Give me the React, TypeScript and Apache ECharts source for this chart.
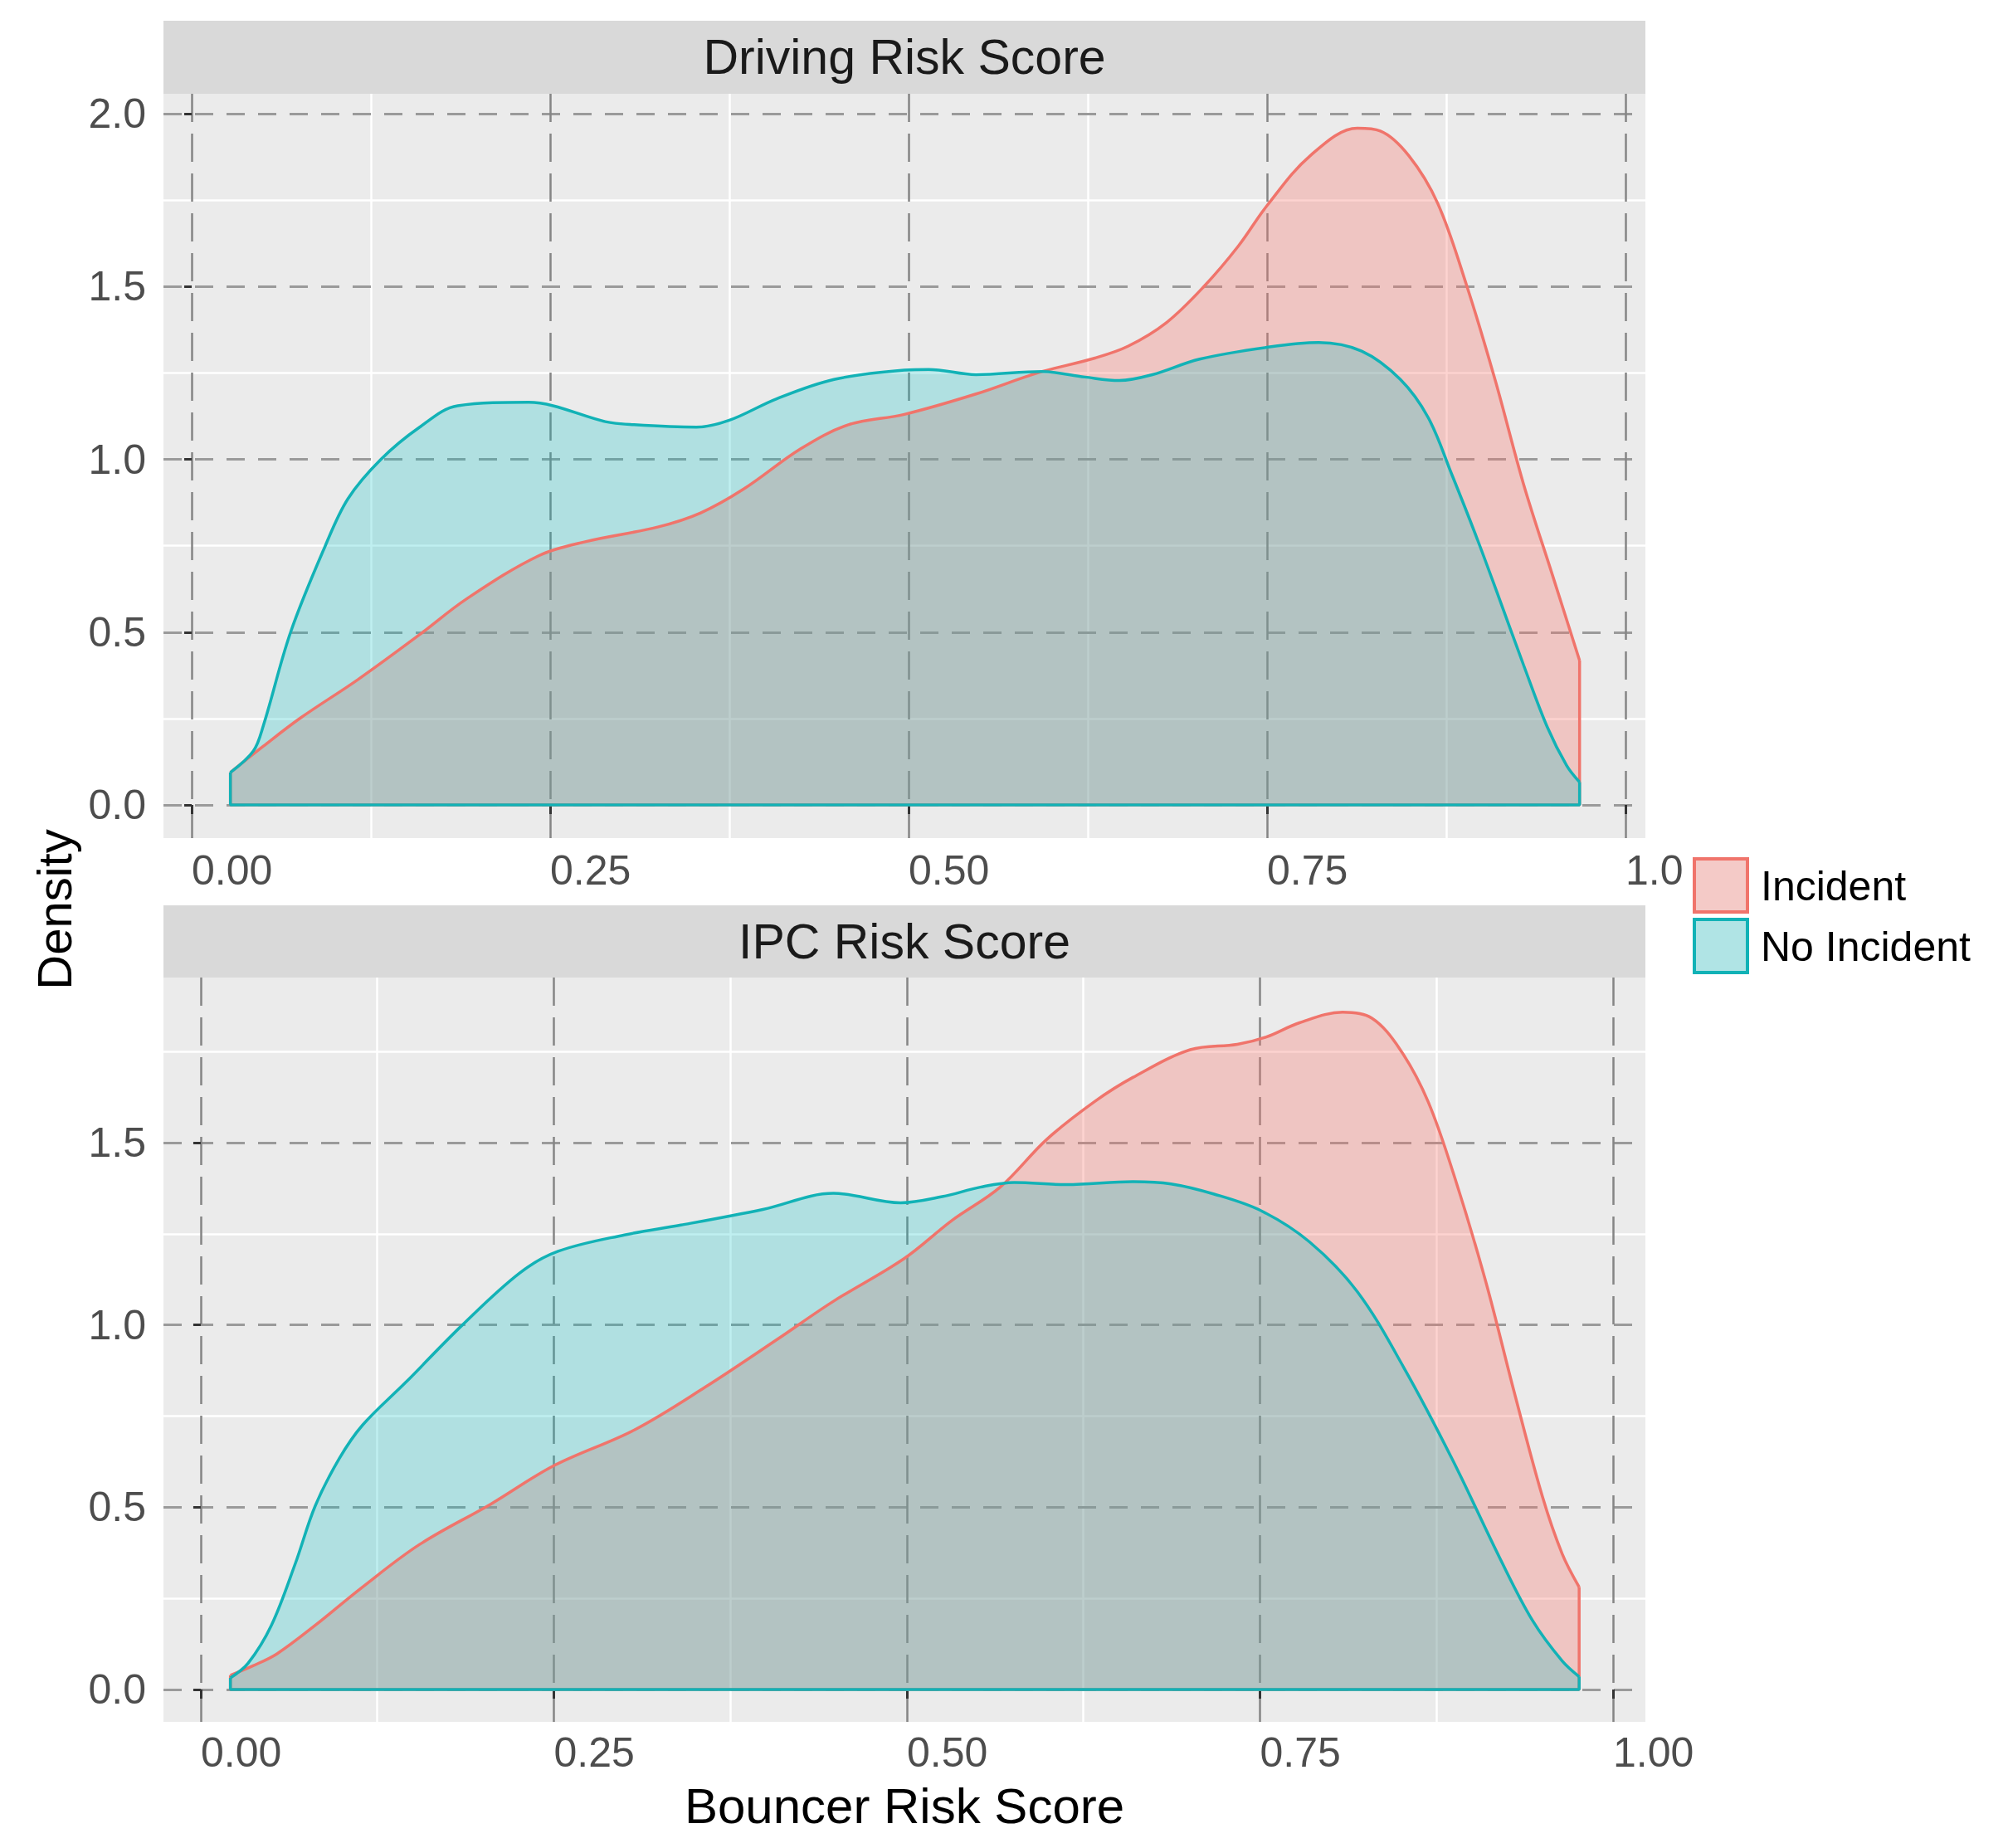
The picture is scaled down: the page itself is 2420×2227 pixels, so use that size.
import React, { useEffect, useRef } from 'react';
import * as echarts from 'echarts';

// ---------- data ----------
const PANEL_TITLES = ['Driving Risk Score', 'IPC Risk Score'];
const GROUPS = ['Incident', 'No Incident'];
const X_TITLE = 'Bouncer Risk Score';
const Y_TITLE = 'Density';

const X_TICKS = [0, 0.25, 0.5, 0.75, 1.0];
const X_MINOR = [0.125, 0.375, 0.625, 0.875];
const Y_TICKS_TOP = [0, 0.5, 1.0, 1.5, 2.0];
const Y_TICKS_BOTTOM = [0, 0.5, 1.0, 1.5];
const Y_MINOR = [0.25, 0.75, 1.25, 1.75];

// Driving Risk Score – Incident
const drivingIncX = [0.027, 0.05, 0.076, 0.116, 0.159, 0.192, 0.242, 0.275, 0.325, 0.355, 0.385, 0.425, 0.458, 0.497, 0.547, 0.59, 0.63, 0.653, 0.68, 0.706, 0.73, 0.75, 0.78, 0.813, 0.829, 0.849, 0.869, 0.889, 0.909, 0.929, 0.949, 0.968];
const drivingIncY = [0.094, 0.17, 0.252, 0.363, 0.493, 0.597, 0.721, 0.762, 0.804, 0.845, 0.914, 1.031, 1.1, 1.13, 1.189, 1.25, 1.293, 1.327, 1.396, 1.5, 1.617, 1.734, 1.878, 1.958, 1.95, 1.878, 1.741, 1.506, 1.231, 0.927, 0.666, 0.418];
// Driving Risk Score – No Incident
const drivingNoX = [0.027, 0.043, 0.05, 0.069, 0.093, 0.109, 0.132, 0.159, 0.1855, 0.235, 0.252, 0.2885, 0.3085, 0.352, 0.375, 0.408, 0.448, 0.497, 0.514, 0.547, 0.593, 0.623, 0.647, 0.67, 0.703, 0.75, 0.786, 0.816, 0.843, 0.8625, 0.879, 0.896, 0.912, 0.929, 0.9455, 0.959, 0.968];
const drivingNoY = [0.094, 0.156, 0.23, 0.5, 0.748, 0.886, 1.0, 1.093, 1.155, 1.165, 1.155, 1.109, 1.1, 1.093, 1.113, 1.175, 1.231, 1.258, 1.26, 1.245, 1.254, 1.238, 1.228, 1.245, 1.29, 1.324, 1.338, 1.313, 1.231, 1.12, 0.955, 0.776, 0.597, 0.404, 0.225, 0.114, 0.066];

// IPC Risk Score – Incident
const ipcIncX = [0.021, 0.037, 0.054, 0.081, 0.1145, 0.155, 0.2055, 0.25, 0.307, 0.357, 0.408, 0.448, 0.498, 0.532, 0.566, 0.599, 0.633, 0.66, 0.7006, 0.734, 0.7545, 0.778, 0.8085, 0.829, 0.849, 0.869, 0.889, 0.91, 0.93, 0.95, 0.964, 0.976];
const ipcIncY = [0.039, 0.065, 0.098, 0.176, 0.281, 0.398, 0.509, 0.614, 0.712, 0.829, 0.96, 1.065, 1.182, 1.287, 1.378, 1.509, 1.613, 1.679, 1.755, 1.77, 1.79, 1.829, 1.858, 1.842, 1.757, 1.613, 1.391, 1.117, 0.816, 0.529, 0.372, 0.281];
// IPC Risk Score – No Incident
const ipcNoX = [0.021, 0.0335, 0.05, 0.067, 0.081, 0.098, 0.1145, 0.145, 0.185, 0.226, 0.253, 0.3, 0.34, 0.398, 0.448, 0.4955, 0.525, 0.552, 0.576, 0.613, 0.66, 0.687, 0.7175, 0.751, 0.785, 0.819, 0.852, 0.886, 0.92, 0.943, 0.964, 0.976];
const ipcNoY = [0.032, 0.072, 0.176, 0.346, 0.503, 0.633, 0.725, 0.842, 0.999, 1.143, 1.202, 1.247, 1.274, 1.317, 1.361, 1.335, 1.352, 1.378, 1.391, 1.385, 1.393, 1.387, 1.359, 1.313, 1.228, 1.091, 0.882, 0.633, 0.359, 0.189, 0.078, 0.035];

// ---------- styling / layout ----------
const FONT = '"Liberation Sans", Arial, Helvetica, sans-serif';
const RED = '#F8766D';
const TEAL = '#00BFC4';
const RED_LINE = '#F0746B';
const TEAL_LINE = '#12B2B6';
const RED_ALPHA = 0.32;
const TEAL_ALPHA = 0.25;
const PANEL_LEFT = 197;
const PANEL_W = 1786;
const PANEL_H = 897;

const PANELS = [
  {
    title: PANEL_TITLES[0],
    inc: [drivingIncX, drivingIncY],
    no: [drivingNoX, drivingNoY],
    xRange: [-0.0197, 1.0139],
    yRange: [-0.096, 2.0576],
    yTicks: Y_TICKS_TOP,
    gridTop: 113,
    stripTop: 25,
    stripH: 88,
    xLabelMargin: 14,
  },
  {
    title: PANEL_TITLES[1],
    inc: [ipcIncX, ipcIncY],
    no: [ipcNoX, ipcNoY],
    xRange: [-0.0264, 1.0229],
    yRange: [-0.0888, 1.9531],
    yTicks: Y_TICKS_BOTTOM,
    gridTop: 1178,
    stripTop: 1091,
    stripH: 87,
    xLabelMargin: 12,
  },
];

function zip(xs: number[], ys: number[]) {
  return xs.map((x, i) => [x, ys[i]]);
}
function edges(xs: number[], ys: number[]) {
  const n = xs.length - 1;
  return [
    [xs[0], ys[0]],
    [xs[0], 0],
    [xs[n], 0],
    [xs[n], ys[n]],
  ];
}

function buildOption() {
  const grid: any[] = [];
  const xAxis: any[] = [];
  const yAxis: any[] = [];
  const series: any[] = [];
  const graphic: any[] = [];

  PANELS.forEach((p, i) => {
    grid.push({
      left: PANEL_LEFT,
      top: p.gridTop,
      width: PANEL_W,
      height: PANEL_H,
      show: true,
      backgroundColor: '#EBEBEB',
      borderWidth: 0,
    });
    // major x axis (dashed grid, ticks, labels)
    xAxis.push({
      type: 'value',
      gridIndex: i,
      min: p.xRange[0],
      max: p.xRange[1],
      z: 1,
      axisLine: { show: false },
      axisTick: {
        show: true,
        customValues: X_TICKS,
        length: 11,
        lineStyle: { color: '#333333', width: 3 },
      },
      axisLabel: {
        show: true,
        customValues: X_TICKS,
        formatter: (v: number) => v.toFixed(2),
        align: 'left',
        fontSize: 50,
        fontFamily: FONT,
        color: '#4D4D4D',
        margin: p.xLabelMargin,
      },
      splitLine: {
        show: true,
        lineStyle: { type: [34, 14], color: '#858585', width: 2.5 },
      },
    });
    // minor x axis (white solid grid)
    xAxis.push({
      type: 'value',
      gridIndex: i,
      min: p.xRange[0],
      max: p.xRange[1],
      z: 0,
      axisLine: { show: false },
      axisTick: { show: false, customValues: X_MINOR },
      axisLabel: { show: false, customValues: X_MINOR },
      splitLine: { show: true, lineStyle: { color: '#FFFFFF', width: 2.5 } },
    });
    yAxis.push({
      type: 'value',
      gridIndex: i,
      min: p.yRange[0],
      max: p.yRange[1],
      z: 1,
      axisLine: { show: false },
      axisTick: {
        show: true,
        customValues: p.yTicks,
        length: 9,
        lineStyle: { color: '#333333', width: 3 },
      },
      axisLabel: {
        show: true,
        customValues: p.yTicks,
        formatter: (v: number) => v.toFixed(1),
        fontSize: 50,
        fontFamily: FONT,
        color: '#4D4D4D',
        margin: 21,
      },
      splitLine: {
        show: true,
        lineStyle: { type: [22, 16], color: '#9A9A9A', width: 3 },
      },
    });
    yAxis.push({
      type: 'value',
      gridIndex: i,
      min: p.yRange[0],
      max: p.yRange[1],
      z: 0,
      axisLine: { show: false },
      axisTick: { show: false, customValues: Y_MINOR },
      axisLabel: { show: false, customValues: Y_MINOR },
      splitLine: { show: true, lineStyle: { color: '#FFFFFF', width: 2.5 } },
    });

    const xi = 2 * i;
    const groups = [
      { name: GROUPS[0], color: RED, line: RED_LINE, alpha: RED_ALPHA, xy: p.inc },
      { name: GROUPS[1], color: TEAL, line: TEAL_LINE, alpha: TEAL_ALPHA, xy: p.no },
    ];
    groups.forEach((g) => {
      series.push({
        type: 'line',
        name: g.name,
        xAxisIndex: xi,
        yAxisIndex: xi,
        data: zip(g.xy[0], g.xy[1]),
        smooth: 0.35,
        showSymbol: false,
        symbol: 'none',
        silent: true,
        lineStyle: { color: g.line, width: 3.5 },
        areaStyle: { color: g.color, opacity: g.alpha },
      });
      series.push({
        type: 'line',
        name: g.name + ' edge',
        xAxisIndex: xi,
        yAxisIndex: xi,
        data: edges(g.xy[0], g.xy[1]),
        smooth: false,
        showSymbol: false,
        symbol: 'none',
        silent: true,
        lineStyle: { color: g.line, width: 3.5 },
      });
    });

    // facet strip
    graphic.push({
      type: 'rect',
      shape: { x: PANEL_LEFT, y: p.stripTop, width: PANEL_W, height: p.stripH },
      style: { fill: '#D9D9D9' },
      silent: true,
    });
    graphic.push({
      type: 'text',
      x: PANEL_LEFT + PANEL_W / 2,
      y: p.stripTop + p.stripH / 2,
      style: {
        text: p.title,
        fontSize: 59,
        fontFamily: FONT,
        fill: '#1A1A1A',
        align: 'center',
        verticalAlign: 'middle',
      },
      silent: true,
    });
  });

  // axis titles
  graphic.push({
    type: 'text',
    x: PANEL_LEFT + PANEL_W / 2,
    y: 2176,
    style: {
      text: X_TITLE,
      fontSize: 60,
      fontFamily: FONT,
      fill: '#000000',
      align: 'center',
      verticalAlign: 'middle',
    },
  });
  graphic.push({
    type: 'text',
    x: 65,
    y: 1096,
    rotation: Math.PI / 2,
    style: {
      text: Y_TITLE,
      fontSize: 58,
      fontFamily: FONT,
      fill: '#000000',
      align: 'center',
      verticalAlign: 'middle',
    },
  });

  // legend (white box covering right edge of upper axis labels)
  graphic.push({
    type: 'rect',
    z: 100,
    shape: { x: 2030, y: 1012, width: 390, height: 190 },
    style: { fill: '#FFFFFF' },
    silent: true,
  });
  const legendItems = [
    { name: GROUPS[0], color: RED_LINE, fill: 'rgba(248,118,109,0.32)', y: 1033 },
    { name: GROUPS[1], color: TEAL_LINE, fill: 'rgba(0,191,196,0.27)', y: 1106 },
  ];
  legendItems.forEach((it) => {
    graphic.push({
      type: 'rect',
      z: 101,
      shape: { x: 2042, y: it.y + 2, width: 64, height: 64 },
      style: { fill: '#F2F2F2' },
      silent: true,
    });
    graphic.push({
      type: 'rect',
      z: 102,
      shape: { x: 2042, y: it.y + 2, width: 64, height: 64 },
      style: { fill: it.fill, stroke: it.color, lineWidth: 4 },
      silent: true,
    });
    graphic.push({
      type: 'text',
      z: 102,
      x: 2122,
      y: it.y + 35,
      style: {
        text: it.name,
        fontSize: 50,
        fontFamily: FONT,
        fill: '#000000',
        align: 'left',
        verticalAlign: 'middle',
      },
      silent: true,
    });
  });

  return {
    animation: false,
    backgroundColor: '#FFFFFF',
    grid,
    xAxis,
    yAxis,
    series,
    graphic,
  };
}

export default function App() {
  const ref = useRef<HTMLDivElement>(null);
  useEffect(() => {
    if (!ref.current) return;
    const chart = echarts.init(ref.current, null, { renderer: 'svg' });
    chart.setOption(buildOption() as any);
    return () => {
      chart.dispose();
    };
  }, []);
  return (
    <div
      ref={ref}
      style={{ position: 'absolute', left: 0, top: 0, width: 2420, height: 2227, background: '#FFFFFF' }}
    />
  );
}
